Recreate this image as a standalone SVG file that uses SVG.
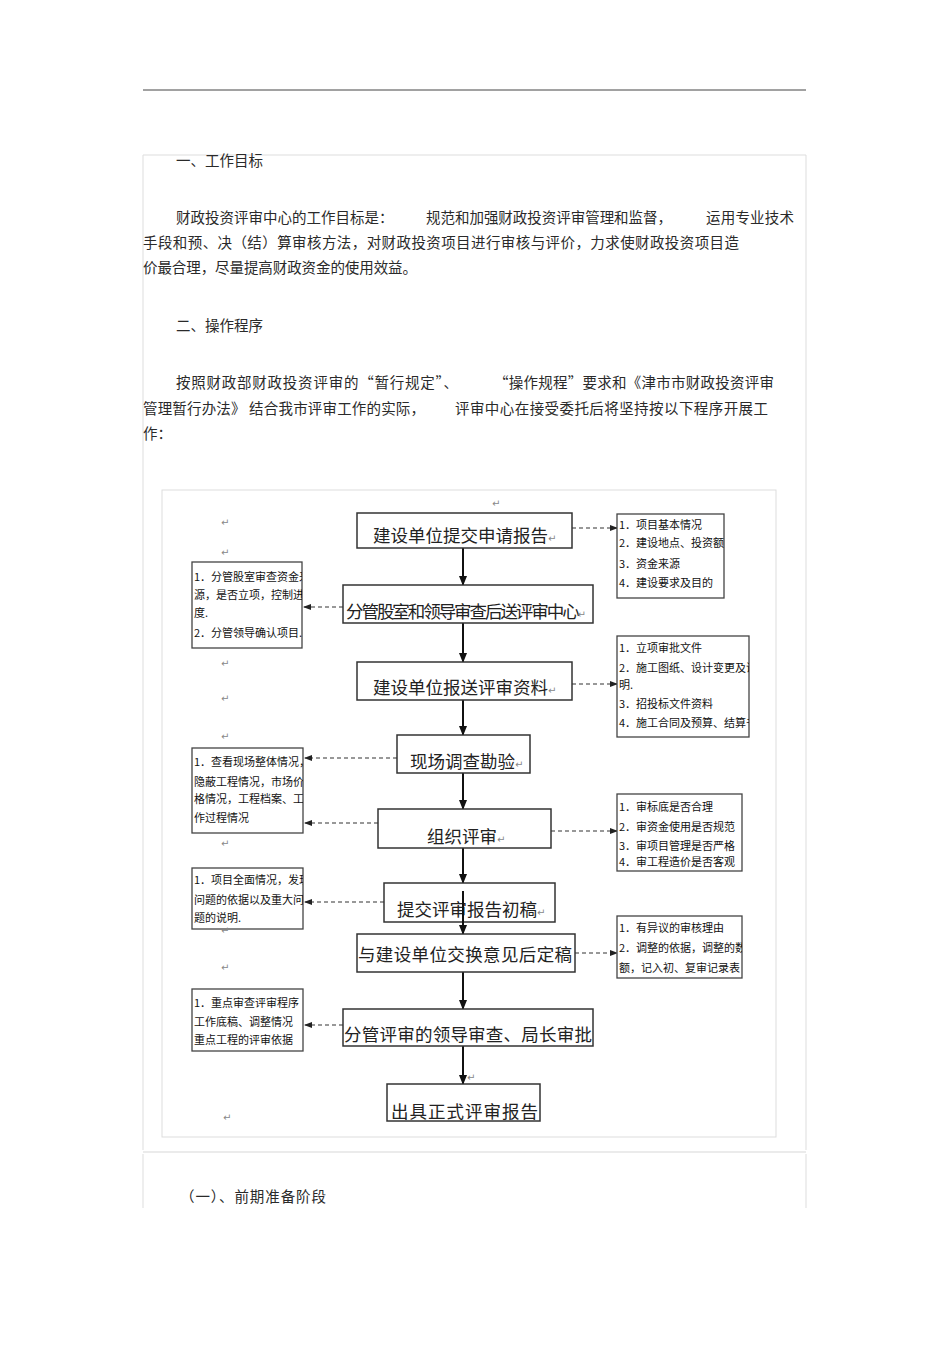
<svg xmlns="http://www.w3.org/2000/svg" width="950" height="1345" viewBox="0 0 950 1345">
<defs>
<marker id="ah" markerWidth="10" markerHeight="10" refX="9" refY="5" orient="auto" markerUnits="userSpaceOnUse"><path d="M0,1 L10,5 L0,9 Z" fill="#111"/></marker>
<marker id="dh" markerWidth="8" markerHeight="8" refX="7" refY="4" orient="auto" markerUnits="userSpaceOnUse"><path d="M0,1 L8,4 L0,7 Z" fill="#222"/></marker>
<clipPath id="cR1"><rect x="617" y="514" width="107" height="84"/></clipPath>
<clipPath id="cR2"><rect x="617" y="636" width="132" height="101"/></clipPath>
<clipPath id="cR3"><rect x="617" y="794" width="125" height="77"/></clipPath>
<clipPath id="cR4"><rect x="617" y="916" width="125" height="62"/></clipPath>
<clipPath id="cL1"><rect x="192" y="562" width="110" height="86"/></clipPath>
<clipPath id="cL2"><rect x="192" y="748" width="111" height="85"/></clipPath>
<clipPath id="cL3"><rect x="192" y="868" width="111" height="61"/></clipPath>
<clipPath id="cL4"><rect x="192" y="989" width="111" height="62"/></clipPath>
</defs>
<style>
.para{font-family:"Noto Sans CJK SC","Noto Sans",sans-serif;font-size:14.5px;fill:#2a2a2a;}
.mb{fill:#fff;stroke:#333;stroke-width:1.5;}
.mt{font-family:"Noto Sans CJK SC","Noto Sans",sans-serif;font-size:17.5px;fill:#222;}
.sb{fill:#fff;stroke:#444;stroke-width:1.3;}
.st{font-family:"Noto Sans CJK SC","Noto Sans",sans-serif;font-size:11px;fill:#111;}
.pm{font-family:"DejaVu Sans",sans-serif;font-size:10px;fill:#888;}
.solid{stroke:#111;stroke-width:2;fill:none;}
.dash{stroke:#333;stroke-width:1.2;stroke-dasharray:4 3;fill:none;}
.frame{fill:none;stroke:#ddd;stroke-width:1;}
</style>
<rect width="950" height="1345" fill="#fff"/>
<g id="page">
<line x1="143" y1="90" x2="806" y2="90" stroke="#444" stroke-width="1"/>
<path class="frame" d="M143,1150 L143,155 L806,155 L806,1150"/>
<line x1="143" y1="1152" x2="806" y2="1152" stroke="#e4e4e4" stroke-width="1.5"/>
<path class="frame" d="M143,1154 L143,1208 M806,1154 L806,1208"/>
<rect class="frame" x="162" y="490" width="614" height="647"/>
</g>
<g id="text-top">
<text class="para" x="176" y="166">一、工作目标</text>
<text class="para" x="176" y="223">财政投资评审中心的工作目标是：</text>
<text class="para" x="426" y="223" textLength="246">规范和加强财政投资评审管理和监督，</text>
<text class="para" x="706" y="223" textLength="88">运用专业技术</text>
<text class="para" x="143" y="248" textLength="596">手段和预、决（结）算审核方法，对财政投资项目进行审核与评价，力求使财政投资项目造</text>
<text class="para" x="143" y="273" textLength="274">价最合理，尽量提高财政资金的使用效益。</text>
<text class="para" x="176" y="331">二、操作程序</text>
<text class="para" x="176" y="388" textLength="282">按照财政部财政投资评审的“暂行规定”、</text>
<text class="para" x="494" y="388" textLength="280">“操作规程”要求和《津市市财政投资评审</text>
<text class="para" x="143" y="414" textLength="282">管理暂行办法》 结合我市评审工作的实际，</text>
<text class="para" x="455" y="414" textLength="313">评审中心在接受委托后将坚持按以下程序开展工</text>
<text class="para" x="143" y="439">作：</text>
<text class="para" x="180" y="1202" textLength="146">（一）、前期准备阶段</text>
</g>
<g id="connectors">
<line class="solid" x1="463" y1="548" x2="463" y2="585" marker-end="url(#ah)"/>
<line class="solid" x1="463" y1="623" x2="463" y2="662" marker-end="url(#ah)"/>
<line class="solid" x1="463" y1="700" x2="463" y2="735" marker-end="url(#ah)"/>
<line class="solid" x1="463" y1="773" x2="463" y2="809" marker-end="url(#ah)"/>
<line class="solid" x1="463" y1="848" x2="463" y2="883" marker-end="url(#ah)"/>
<line class="solid" x1="463" y1="972" x2="463" y2="1009" marker-end="url(#ah)"/>
<line class="solid" x1="463" y1="1046" x2="463" y2="1084" marker-end="url(#ah)"/>
<line class="dash" x1="572" y1="528" x2="617" y2="528" marker-end="url(#dh)"/>
<line class="dash" x1="343" y1="607" x2="304" y2="607" marker-end="url(#dh)"/>
<line class="dash" x1="572" y1="684" x2="617" y2="684" marker-end="url(#dh)"/>
<line class="dash" x1="397" y1="758" x2="305" y2="758" marker-end="url(#dh)"/>
<line class="dash" x1="378" y1="823" x2="305" y2="823" marker-end="url(#dh)"/>
<line class="dash" x1="551" y1="831" x2="617" y2="831" marker-end="url(#dh)"/>
<line class="dash" x1="384" y1="902" x2="305" y2="902" marker-end="url(#dh)" stroke-dasharray="3 2" stroke-width="1.6"/>
<line class="dash" x1="575" y1="953" x2="617" y2="953" marker-end="url(#dh)"/>
<line class="dash" x1="343" y1="1025" x2="305" y2="1025" marker-end="url(#dh)"/>
</g>
<g id="n1"><rect class="mb" x="357" y="513" width="215" height="35"/><text class="mt" x="373" y="542">建设单位提交申请报告<tspan class="pm">↵</tspan></text></g>
<g id="n2"><rect class="mb" x="343" y="585" width="250" height="38"/><text class="mt" x="346" y="618" textLength="240">分管股室和领导审查后送评审中心<tspan class="pm">↵</tspan></text></g>
<g id="n3"><rect class="mb" x="357" y="662" width="215" height="38"/><text class="mt" x="373" y="694">建设单位报送评审资料<tspan class="pm">↵</tspan></text></g>
<g id="n4"><rect class="mb" x="397" y="735" width="133" height="38"/><text class="mt" x="410" y="768">现场调查勘验<tspan class="pm">↵</tspan></text></g>
<g id="n5"><rect class="mb" x="378" y="809" width="173" height="39"/><text class="mt" x="427" y="843">组织评审<tspan class="pm">↵</tspan></text></g>
<g id="n6"><rect class="mb" x="384" y="883" width="171" height="39"/><text class="mt" x="397" y="916">提交评审报告初稿<tspan class="pm">↵</tspan></text></g>
<line class="solid" x1="463" y1="891" x2="463" y2="934" marker-end="url(#ah)"/>
<g id="n7"><rect class="mb" x="357" y="934" width="218" height="38"/><text class="mt" x="358" y="961" textLength="214">与建设单位交换意见后定稿</text></g>
<g id="n8"><rect class="mb" x="343" y="1009" width="250" height="37"/><text class="mt" x="344" y="1041" textLength="248">分管评审的领导审查、局长审批</text></g>
<g id="n9"><rect class="mb" x="387" y="1084" width="153" height="37"/><text class="mt" x="391" y="1118" textLength="147">出具正式评审报告</text></g>
<g id="r1"><rect class="sb" x="617" y="514" width="107" height="84"/><g clip-path="url(#cR1)"><text class="st" x="619" y="529">1．项目基本情况</text><text class="st" x="619" y="547">2．建设地点、投资额</text><text class="st" x="619" y="568">3．资金来源</text><text class="st" x="619" y="587">4．建设要求及目的</text></g></g>
<g id="r2"><rect class="sb" x="617" y="636" width="132" height="101"/><g clip-path="url(#cR2)"><text class="st" x="619" y="652">1．立项审批文件</text><text class="st" x="619" y="672">2．施工图纸、设计变更及说</text><text class="st" x="619" y="689">明.</text><text class="st" x="619" y="708">3．招投标文件资料</text><text class="st" x="619" y="727">4．施工合同及预算、结算书</text></g></g>
<g id="r3"><rect class="sb" x="617" y="794" width="125" height="77"/><g clip-path="url(#cR3)"><text class="st" x="619" y="811">1．审标底是否合理</text><text class="st" x="619" y="831">2．审资金使用是否规范</text><text class="st" x="619" y="850">3．审项目管理是否严格</text><text class="st" x="619" y="866">4．审工程造价是否客观</text></g></g>
<g id="r4"><rect class="sb" x="617" y="916" width="125" height="62"/><g clip-path="url(#cR4)"><text class="st" x="619" y="932">1．有异议的审核理由</text><text class="st" x="619" y="952">2．调整的依据，调整的数</text><text class="st" x="619" y="972">额，记入初、复审记录表</text></g></g>
<g id="l1"><rect class="sb" x="192" y="562" width="110" height="86"/><g clip-path="url(#cL1)"><text class="st" x="194" y="581">1．分管股室审查资金来</text><text class="st" x="194" y="599">源，是否立项，控制进</text><text class="st" x="194" y="617">度.</text><text class="st" x="194" y="637">2．分管领导确认项目.</text></g></g>
<g id="l2"><rect class="sb" x="192" y="748" width="111" height="85"/><g clip-path="url(#cL2)"><text class="st" x="194" y="766">1．查看现场整体情况，</text><text class="st" x="194" y="786">隐蔽工程情况，市场价</text><text class="st" x="194" y="803">格情况，工程档案、工</text><text class="st" x="194" y="822">作过程情况</text></g></g>
<g id="l3"><rect class="sb" x="192" y="868" width="111" height="61"/><g clip-path="url(#cL3)"><text class="st" x="194" y="884">1．项目全面情况，发现</text><text class="st" x="194" y="904">问题的依据以及重大问</text><text class="st" x="194" y="922">题的说明.</text></g></g>
<g id="l4"><rect class="sb" x="192" y="989" width="111" height="62"/><g clip-path="url(#cL4)"><text class="st" x="194" y="1007">1．重点审查评审程序</text><text class="st" x="194" y="1026">工作底稿、调整情况</text><text class="st" x="194" y="1044">重点工程的评审依据</text></g></g>
<g id="marks">
<text class="pm" x="221" y="526">↵</text>
<text class="pm" x="221" y="556">↵</text>
<text class="pm" x="221" y="667">↵</text>
<text class="pm" x="221" y="702">↵</text>
<text class="pm" x="221" y="740">↵</text>
<text class="pm" x="221" y="847">↵</text>
<text class="pm" x="221" y="934">↵</text>
<text class="pm" x="221" y="971">↵</text>
<text class="pm" x="223" y="1121">↵</text>
<text class="pm" x="467" y="1081" font-size="8">↵</text>
<text class="pm" x="492" y="507" font-size="6">↵</text>
</g>
</svg>
